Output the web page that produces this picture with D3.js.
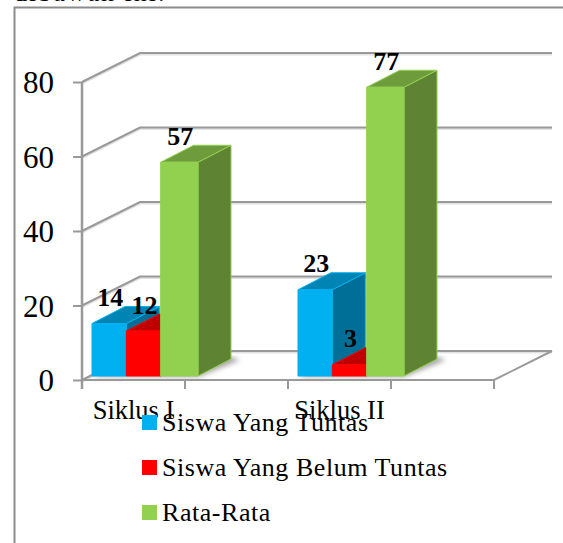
<!DOCTYPE html>
<html>
<head>
<meta charset="utf-8">
<script src="https://cdn.jsdelivr.net/npm/d3@7"></script>
<style>
    html, body { margin: 0; padding: 0; background: #fff; overflow: hidden; }
    svg { display: block; }
    text { font-family: "Liberation Serif", serif; fill: #000; }
    .domain { display: none; }
</style>
</head>
<body>
<script>
// values
var categories = ["Siklus I", "", "Siklus II", " "];
var seriesNames = ["Siswa Yang Tuntas", "Siswa Yang Belum Tuntas", "Rata-Rata"];
var tuntas = [14, null, 23, null];
var belumTuntas = [12, null, 3, null];
var rataRata = [57, null, 77, null];
var yTicks = [0, 20, 40, 60, 80];

window.onload = function(){

    var w = 563, h = 543;

    //3d look: how far the back wall and the bars are pushed
    var wallDx = 58, wallDy = -29;
    var barDx = 33, barDy = -17;
    var floorDx = 10;

    var colors = [
        { front: "#00b0f0", top: "#0084b4", side: "#006f97" },
        { front: "#ff0000", top: "#bf0000", side: "#a00000" },
        { front: "#92d050", top: "#6e9c3c", side: "#5e8332" }
    ];
    var gridColor = "#999999";

    var svg = d3.select("body")
        .append("svg")
        .attr("width", w)
        .attr("height", h);

    var defs = svg.append("defs");
    defs.append("filter")
        .attr("id", "blur")
        .append("feGaussianBlur")
        .attr("stdDeviation", 2.5);

    //text of the page above the chart, cut by the top edge
    svg.append("text")
        .attr("x", 14)
        .attr("y", 1)
        .style("font-size", "26px")
        .style("letter-spacing", "2px")
        .text("dibawah ini.");

    //chart frame
    svg.append("path")
        .attr("d", "M14.5," + h + "V7.5H" + w)
        .attr("fill", "none")
        .attr("stroke", "#8c8c8c")
        .attr("stroke-width", 2);

    var x = d3.scaleBand()
        .domain(categories)
        .range([82, 494]);

    var y = d3.scaleLinear()
        .domain([0, 80])
        .range([380, 82]);

    //the bars stand a little way in from the front edge of the floor
    var yBar = d3.scaleLinear()
        .domain([0, 80])
        .range([376, 76]);

    var sub = d3.scaleBand()
        .domain(seriesNames)
        .range([0, 103]);

    function gridPath(d){
        var x0 = x.range()[0], x1 = x.range()[1];
        return "M" + x0 + "," + y(d) +
            "L" + (x0 + wallDx) + "," + (y(d) + wallDy) +
            "H" + (x1 + wallDx);
    }

    //faint shadow under each gridline
    svg.selectAll(".gridShadow")
        .data(yTicks)
        .enter()
        .append("path")
        .attr("class", "gridShadow")
        .attr("fill", "none")
        .attr("stroke", "#e2e2e2")
        .attr("stroke-width", 2)
        .attr("transform", "translate(0,1.5)")
        .attr("d", gridPath);

    //gridlines: slanted piece on the side wall, then straight along the back wall
    svg.selectAll(".grid")
        .data(yTicks)
        .enter()
        .append("path")
        .attr("class", "grid")
        .attr("fill", "none")
        .attr("stroke", gridColor)
        .attr("stroke-width", 2)
        .attr("d", gridPath);

    //floor front edge and the right edge
    svg.append("path")
        .attr("fill", "none")
        .attr("stroke", gridColor)
        .attr("stroke-width", 2)
        .attr("d", "M" + x.range()[0] + "," + y(0) + "H" + x.range()[1] +
            "l" + wallDx + "," + wallDy);

    //axes
    var yAxis = d3.axisLeft(y)
        .tickValues(yTicks)
        .tickSize(9)
        .tickPadding(19);

    var yG = svg.append("g")
        .attr("transform", "translate(82,0)")
        .call(yAxis);
    yG.selectAll("line").attr("stroke", gridColor).attr("stroke-width", 2);
    yG.selectAll("text")
        .attr("dy", "0.35em")
        .style("font-size", "31px")
        .style("font-family", "'Liberation Serif', serif");

    svg.append("line")
        .attr("x1", 82).attr("x2", 82)
        .attr("y1", y(80)).attr("y2", y(0) + 9)
        .attr("stroke", gridColor)
        .attr("stroke-width", 2.5);

    var xAxis = d3.axisBottom(x)
        .tickSize(0)
        .tickPadding(20);

    var xG = svg.append("g")
        .attr("transform", "translate(0," + y(0) + ")")
        .call(xAxis);
    xG.selectAll("text")
        .style("font-size", "26.5px")
        .style("font-family", "'Liberation Serif', serif");

    //tick marks sit on the band edges, not the band centres
    svg.selectAll(".edgeTick")
        .data(d3.range(categories.length + 1))
        .enter()
        .append("line")
        .attr("class", "edgeTick")
        .attr("x1", function(i){ return x.range()[0] + i * x.step(); })
        .attr("x2", function(i){ return x.range()[0] + i * x.step(); })
        .attr("y1", y(0))
        .attr("y2", y(0) + 9)
        .attr("stroke", gridColor)
        .attr("stroke-width", 2);

    //bars, one list per series
    var series = [tuntas, belumTuntas, rataRata];

    var barData = [];
    categories.forEach(function(c, i){
        series.forEach(function(values, s){
            if (values[i] !== null) {
                barData.push({ category: c, series: s, value: values[i] });
            }
        });
    });

    function barBox(d){
        var x0 = x(d.category) + floorDx + sub(seriesNames[d.series]);
        //last bar of a group is drawn a touch wider
        var extra = d.series === 2 ? 3 : 0;
        return {
            x0: x0,
            x1: x0 + sub.bandwidth() + extra,
            base: yBar(0),
            top: yBar(d.value)
        };
    }

    function poly(points){
        return "M" + points.map(function(p){ return p.join(","); }).join("L") + "Z";
    }

    //soft shadow on the floor under each group
    var shadowData = barData.filter(function(d){ return d.series === 2; });
    svg.selectAll(".shadow")
        .data(shadowData)
        .enter()
        .append("path")
        .attr("class", "shadow")
        .attr("fill", "#a6a6a6")
        .attr("filter", "url(#blur)")
        .attr("d", function(d){
            var b = barBox(d);
            var left = b.x0 - 2 * sub.bandwidth();
            return poly([
                [left, b.base + 1],
                [b.x1, b.base + 1],
                [b.x1 + barDx + 9, b.base + barDy + 1],
                [b.x1 + barDx, b.base + barDy - 2],
                [left + barDx, b.base + barDy]
            ]);
        });

    var bars = svg.selectAll(".bar")
        .data(barData)
        .enter()
        .append("g")
        .attr("class", "bar");

    bars.append("path")
        .attr("fill", function(d){ return colors[d.series].side; })
        .attr("stroke", function(d){ return colors[d.series].front; })
        .attr("d", function(d){
            var b = barBox(d);
            return poly([
                [b.x1, b.top], [b.x1 + barDx, b.top + barDy],
                [b.x1 + barDx, b.base + barDy], [b.x1, b.base]
            ]);
        });

    bars.append("path")
        .attr("fill", function(d){ return colors[d.series].top; })
        .attr("stroke", function(d){ return colors[d.series].front; })
        .attr("d", function(d){
            var b = barBox(d);
            return poly([
                [b.x0, b.top], [b.x1, b.top],
                [b.x1 + barDx, b.top + barDy], [b.x0 + barDx, b.top + barDy]
            ]);
        });

    bars.append("path")
        .attr("fill", function(d){ return colors[d.series].front; })
        .attr("stroke", function(d){ return colors[d.series].front; })
        .attr("d", function(d){
            var b = barBox(d);
            return poly([
                [b.x0, b.top], [b.x1, b.top], [b.x1, b.base], [b.x0, b.base]
            ]);
        });

    //value labels above the bars
    svg.selectAll(".valueLabel")
        .data(barData)
        .enter()
        .append("text")
        .attr("class", "valueLabel")
        .attr("text-anchor", "middle")
        .attr("x", function(d){
            var b = barBox(d);
            return (b.x0 + b.x1) / 2 + 1;
        })
        .attr("y", function(d){ return barBox(d).top - 17.5; })
        .style("font-size", "26px")
        .style("font-weight", "bold")
        .text(function(d){ return d.value; });

    //legend
    var legend = svg.selectAll(".legendItem")
        .data(seriesNames)
        .enter()
        .append("g")
        .attr("class", "legendItem")
        .attr("transform", function(d, i){
            return "translate(142," + (415 + i * 45) + ")";
        });

    legend.append("rect")
        .attr("width", 15)
        .attr("height", 15)
        .attr("fill", function(d, i){ return colors[i].front; });

    legend.append("text")
        .attr("x", 20)
        .attr("y", 16)
        .style("font-size", "26px")
        .style("letter-spacing", "0.55px")
        .text(function(d){ return d; });
};
</script>
</body>
</html>
